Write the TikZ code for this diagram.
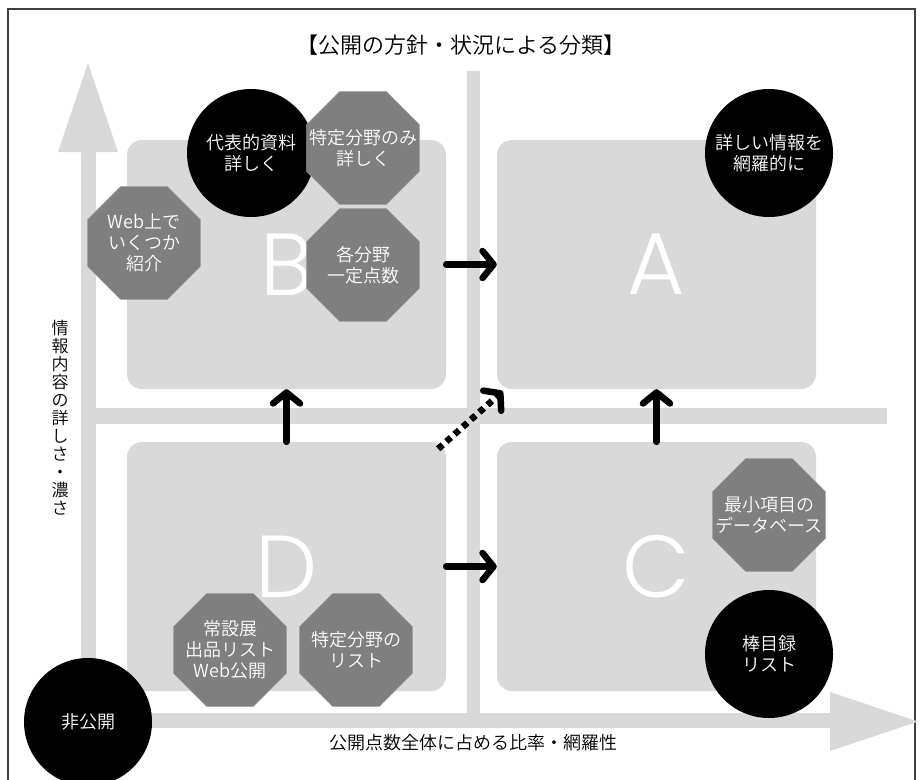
\documentclass[tikz,border=0pt]{standalone}
\usepackage{fontspec}
\IfFontExistsTF{Noto Sans CJK JP DemiLight}{\setmainfont{Noto Sans CJK JP DemiLight}}{\IfFontExistsTF{Noto Sans CJK JP Light}{\setmainfont{Noto Sans CJK JP Light}}{\setmainfont{Noto Sans CJK JP}}}
\IfFontExistsTF{Poppins Light}{\newfontfamily\letterfont{Poppins Light}}{\newfontfamily\letterfont{Poppins}}
\usetikzlibrary{arrows.meta,shapes.geometric,calc}
\definecolor{panelgray}{HTML}{D9D9D9}
\definecolor{octagray}{HTML}{7F7F7F}
\definecolor{framegray}{HTML}{404040}
\begin{document}
\begin{tikzpicture}[x=1pt,y=-1pt,
  quadrant/.style={fill=panelgray, rounded corners=15pt, minimum width=319pt, minimum height=249pt, inner sep=0pt, text=white, font=\letterfont\fontsize{88}{88}\selectfont},
  blackdot/.style={circle, fill=black, minimum size=128pt, inner sep=0pt, text=white, align=center, font=\fontsize{18}{21}\selectfont},
  octagon/.style={regular polygon, regular polygon sides=8, fill=octagray, draw=octagray!80!white, line width=0.6pt, minimum size=122pt, inner sep=0pt},
  octatext/.style={text=white, align=center, font=\fontsize{18}{21}\selectfont},
  flow/.style={line width=6.5pt, line cap=round, -{Straight Barb[length=11pt,width=27pt,round]}},
  band/.style={fill=panelgray}]
\useasboundingbox (0,0) rectangle (920,779);
\fill[white] (0,0) rectangle (920,779);
\draw[framegray, line width=1.5pt] (8,9) rectangle (915,795);
% title
\node[font=\fontsize{22}{24}\selectfont] (title) at (461,45) {【公開の方針・状況による分類】};
% gray axes and dividers
\fill[band] (81,152) rectangle (96,728);
\fill[band] (58,152) -- (118,152) -- (88,63) -- cycle;
\fill[band] (81,713) rectangle (830,728);
\fill[band] (830,692) -- (830,751) -- (918,721.5) -- cycle;
\fill[band] (467,71) rectangle (480,713);
\fill[band] (81,408) rectangle (887,424);
% quadrants
\node[quadrant] (B) at (286.5,264.5) {B};
\node[quadrant] (A) at (656.5,264.5) {A};
\node[quadrant] (D) at (286.5,566.5) {D};
\node[quadrant] (C) at (656.5,566.5) {C};
% flow arrows
\draw[flow] (B.east) -- (A.west);
\draw[flow] (D.east) -- (C.west);
\draw[flow] (D.north) -- (B.south);
\draw[flow] (C.north) -- (A.south);
\draw[flow, dash pattern=on 6pt off 5pt, line cap=butt] ($(D.north east)+(-8,7)$) -- ($(A.south west)+(6,2)$);
% axis labels
\node[font=\fontsize{17}{18}\selectfont, align=center] (ylab) at (60,418) {情\\報\\内\\容\\の\\詳\\し\\さ\\・\\濃\\さ};
\node[font=\fontsize{18}{20}\selectfont] (xlab) at (473,743) {公開点数全体に占める比率・網羅性};
% items
\node[blackdot] (daihyo) at (251,153) {代表的資料\\詳しく};
\node[octagon, label={[octatext]center:{特定分野のみ\\詳しく}}] (tokuteimi) at (363,148) {};
\node[octagon, label={[octatext]center:{Web上で\\いくつか\\紹介}}] (web) at (144,243) {};
\node[octagon, label={[octatext]center:{各分野\\一定点数}}] (kakubunya) at (363,265) {};
\node[blackdot] (kuwashii) at (769,153) {詳しい情報を\\網羅的に};
\node[octagon, label={[octatext]center:{最小項目の\\データベース}}] (saisho) at (769,515) {};
\node[blackdot] (bou) at (769,654) {棒目録\\リスト};
\node[octagon, label={[octatext]center:{常設展\\出品リスト\\Web公開}}] (jousetsu) at (230,650) {};
\node[octagon, label={[octatext]center:{特定分野の\\リスト}}] (tokuteilist) at (356,650) {};
\node[blackdot] (hikoukai) at (88,722) {非公開};
\end{tikzpicture}
\end{document}
